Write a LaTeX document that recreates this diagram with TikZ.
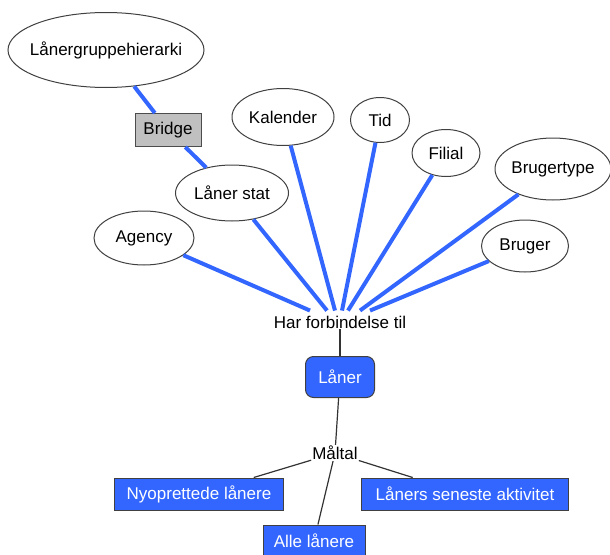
\documentclass[tikz,border=0pt]{standalone}
\usepackage{fontspec}
\setmainfont{Liberation Sans}
\definecolor{linkblue}{RGB}{51, 102, 255}
\definecolor{factblue}{RGB}{51, 102, 255}
\definecolor{bridgegray}{RGB}{192, 192, 192}
\usetikzlibrary{shapes.geometric, calc}

\begin{document}
\begin{tikzpicture}[x=1pt, y=-1pt,
  dimnode/.style={draw=black!75, line width=1pt, ellipse, fill=white, inner sep=0pt, font=\fontsize{17}{20}\selectfont},
  factbox/.style={draw=black!75, line width=1pt, fill=factblue, text=white, inner sep=0pt, font=\fontsize{17}{20}\selectfont},
  joinlabel/.style={inner sep=1pt, font=\fontsize{17}{20}\selectfont},
  bluelink/.style={line width=4pt, linkblue},
  thinlink/.style={line width=1.2pt, black!80}
]
  \useasboundingbox (0, 0) rectangle (610, 554);

  % Dimensions
  \node[dimnode, inner xsep=-12pt, minimum width=196pt, minimum height=75pt] (hier) at (106, 50) {Lånergruppehierarki};
  \node[draw=black!70, line width=1pt, fill=bridgegray, minimum width=66pt, minimum height=33pt, inner sep=0pt, font=\fontsize{17}{20}\selectfont] (bridge) at (168, 130) {Bridge};
  \node[dimnode, inner xsep=-3pt, minimum width=113pt, minimum height=56pt] (stat) at (232, 193) {Låner stat};
  \node[dimnode, minimum width=100pt, minimum height=54pt] (agency) at (144, 238) {Agency};
  \node[dimnode, minimum width=102pt, minimum height=57pt] (kal) at (283, 117) {Kalender};
  \node[dimnode, minimum width=59pt, minimum height=45pt] (tid) at (380, 120) {Tid};
  \node[dimnode, minimum width=68pt, minimum height=47pt] (filial) at (446, 153) {Filial};
  \node[dimnode, inner xsep=-4pt, minimum width=116pt, minimum height=62pt] (btype) at (553, 169) {Brugertype};
  \node[dimnode, minimum width=87pt, minimum height=52pt] (bruger) at (525, 246) {Bruger};

  % Fact and measures
  \node[joinlabel] (har) at (340, 322) {Har forbindelse til};
  \node[factbox, rounded corners=8pt, minimum width=69pt, minimum height=41pt] (laaner) at (340, 377) {Låner};
  \node[joinlabel] (maal) at (335, 453) {Måltal};
  \node[factbox, minimum width=169pt, minimum height=32pt] (nyopr) at (199, 494) {Nyoprettede lånere};
  \node[factbox, minimum width=207pt, minimum height=32pt] (senest) at (465, 494) {Låners seneste aktivitet};
  \node[factbox, minimum width=102pt, minimum height=32pt] (alle) at (314, 541) {Alle lånere};

  \draw[bluelink] (hier) -- (bridge);
  \draw[bluelink] (bridge) -- (stat);
  \draw[bluelink] (agency) -- ($(har.north)+(-30, -4)$);
  \draw[bluelink] (stat) -- ($(har.north)+(-13, -4)$);
  \draw[bluelink] (kal) -- ($(har.north)+(-5, -4)$);
  \draw[bluelink] (tid) -- ($(har.north)+(2, -4)$);
  \draw[bluelink] (filial) -- ($(har.north)+(8, -4)$);
  \draw[bluelink] (btype) -- ($(har.north)+(20, -4)$);
  \draw[bluelink] (bruger) -- ($(har.north)+(30, -4)$);

  \draw[thinlink] (har) -- (laaner);
  \draw[thinlink] (laaner) -- (maal);
  \draw[thinlink] (maal) -- (nyopr);
  \draw[thinlink] (maal) -- (alle);
  \draw[thinlink] (maal) -- (senest);
\end{tikzpicture}
\end{document}
